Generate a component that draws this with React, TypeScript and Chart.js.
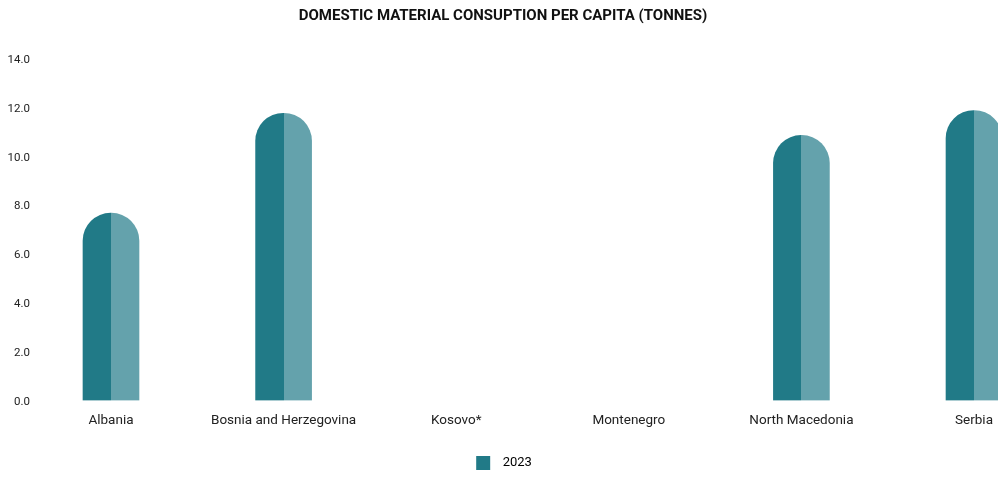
import React, { useEffect, useRef } from "react";
import { Chart, registerables } from "chart.js";

Chart.register(...registerables);

const categories = [
  "Albania",
  "Bosnia and Herzegovina",
  "Kosovo*",
  "Montenegro",
  "North Macedonia",
  "Serbia",
];
const values2023: (number | null)[] = [7.67, 11.76, null, null, 10.85, 11.87];
const seriesLabel = "2023";
const yTicks = [0, 2, 4, 6, 8, 10, 12, 14];

const DARK = "#217a87";
const LIGHT = "#64a2ac";
const FONT = "Roboto, 'Liberation Sans', sans-serif";

export default function App() {
  const ref = useRef<HTMLCanvasElement | null>(null);

  useEffect(() => {
    document.body.style.margin = "0";
    document.body.style.overflow = "hidden";
    const canvas = ref.current;
    if (!canvas) return;
    const BAR = 56;

    // legend swatch: 14px square inside a wider image (gives the wider gap before the text)
    const swatch = document.createElement("canvas");
    swatch.width = 22;
    swatch.height = 14;
    const sctx = swatch.getContext("2d");
    if (sctx) {
      sctx.fillStyle = DARK;
      sctx.fillRect(2, 0, 14, 14);
    }

    const chart = new Chart(canvas, {
      type: "bar",
      data: {
        datasets: [
          {
            label: seriesLabel,
            data: categories.map((c, i) => ({ x: i, y: values2023[i] })) as any,
            barThickness: BAR,
            borderRadius: BAR / 2,
            borderSkipped: "start",
            borderWidth: 0,
            backgroundColor: (ctx: any) => {
              const ch = ctx.chart;
              const xs = ch.scales && ch.scales.x;
              if (!xs || ctx.type !== "data") return DARK;
              const cx = xs.getPixelForValue(ctx.dataIndex);
              if (!isFinite(cx)) return DARK;
              const g = ch.ctx.createLinearGradient(cx - BAR / 2, 0, cx + BAR / 2, 0);
              g.addColorStop(0, DARK);
              g.addColorStop(0.5, DARK);
              g.addColorStop(0.5, LIGHT);
              g.addColorStop(1, LIGHT);
              return g;
            },
          },
        ],
      },
      options: {
        responsive: false,
        animation: false,
        layout: { padding: { left: 8, right: 0, top: 0, bottom: -1.5 } },
        plugins: {
          title: {
            display: true,
            text: "DOMESTIC MATERIAL CONSUPTION PER CAPITA (TONNES)",
            color: "#111111",
            font: { family: FONT, size: 15, weight: "bold" },
            padding: { top: 7, bottom: 33.5 },
          },
          legend: {
            position: "bottom",
            labels: {
              usePointStyle: true,
              pointStyleWidth: 22,
              boxHeight: 14,
              padding: 8,
              color: "#222222",
              font: { family: FONT, size: 13 },
              generateLabels: () => [
                {
                  text: seriesLabel,
                  fillStyle: DARK,
                  strokeStyle: DARK,
                  lineWidth: 0,
                  hidden: false,
                  pointStyle: swatch,
                  datasetIndex: 0,
                } as any,
              ],
            },
          },
          tooltip: { enabled: false },
        },
        scales: {
          x: {
            type: "linear",
            offset: false,
            min: -0.4461,
            max: 5.139,
            grid: { display: false, drawTicks: false },
            border: { display: false },
            afterFit: (s: any) => {
              s.height = 48;
              s.paddingLeft = 0;
              s.paddingRight = 0;
            },
            ticks: {
              stepSize: 1,
              includeBounds: false,
              autoSkip: false,
              maxRotation: 0,
              padding: 12,
              color: "#222222",
              font: { family: FONT, size: 13.5 },
              callback: (v: any) => categories[Number(v)] ?? "",
            },
          },
          y: {
            min: 0,
            max: 14,
            grid: { display: false, drawTicks: false },
            border: { display: false },
            afterFit: (s: any) => {
              s.width = 26;
            },
            afterBuildTicks: (s: any) => {
              s.ticks = yTicks.map((v) => ({ value: v }));
            },
            ticks: {
              padding: 4,
              labelOffset: 1.5,
              color: "#222222",
              font: { family: FONT, size: 11.5 },
              callback: (v: any) => Number(v).toFixed(1),
            },
          },
        },
      },
    });
    return () => chart.destroy();
  }, []);

  return (
    <div style={{ width: 998, height: 478 }}>
      <canvas ref={ref} width={998} height={478} style={{ display: "block" }} />
    </div>
  );
}
